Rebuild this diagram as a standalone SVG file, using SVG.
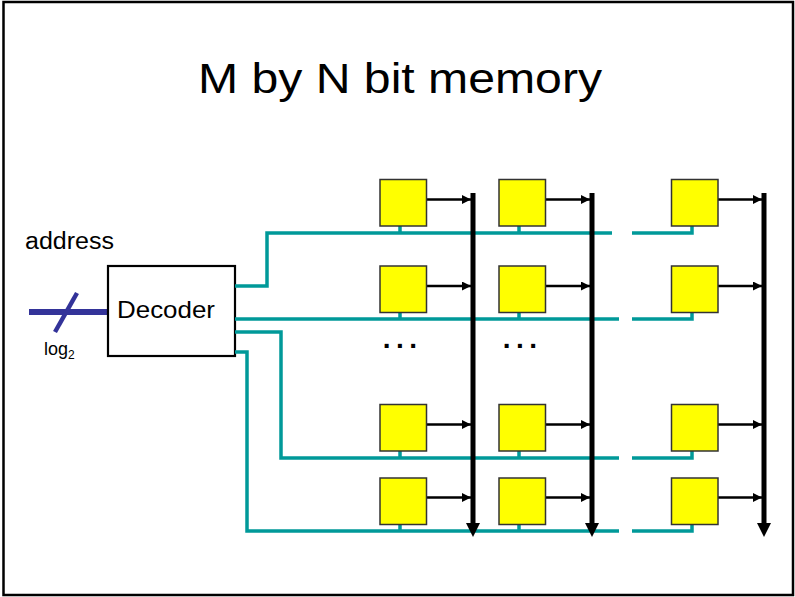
<svg xmlns="http://www.w3.org/2000/svg" width="795" height="597" viewBox="0 0 795 597">
<style>
  .t { font-family: "Liberation Sans", Arial, sans-serif; fill: #000; }
  .cell { fill: #FFFF00; stroke: #333; stroke-width: 1.5; }
  .wl { fill: none; stroke: #009999; stroke-width: 3.5; }
  .bl { stroke: #000; stroke-width: 5; }
  .ar { stroke: #000; stroke-width: 2.7; }
  .bus { stroke: #333399; }
  .dots { font-size: 28px; font-weight: bold; letter-spacing: 5.5px; }
</style>
<defs>
  <marker id="ah" viewBox="0 0 10 10" refX="10" refY="5" markerWidth="9" markerHeight="9" markerUnits="userSpaceOnUse" orient="auto">
    <path d="M0,0 L10,5 L0,10 Z" fill="#000"/>
  </marker>
  <marker id="bh" viewBox="0 0 14 14" refX="7" refY="0" markerWidth="14" markerHeight="14" markerUnits="userSpaceOnUse" orient="0">
    <path d="M0,0 L14,0 L7,14 Z" fill="#000"/>
  </marker>
</defs>
<rect x="0" y="0" width="795" height="597" fill="#fff"/>
<rect x="3.5" y="2" width="789.5" height="593" fill="none" stroke="#000" stroke-width="2.5"/>
<text class="t" x="198" y="93" font-size="43" textLength="404" lengthAdjust="spacingAndGlyphs">M by N bit memory</text>

<g id="address-label"><text class="t" x="25" y="249" font-size="23" textLength="89" lengthAdjust="spacingAndGlyphs">address</text></g>

<g id="address-bus">
  <line class="bus" x1="29" y1="312" x2="109" y2="312" stroke-width="6"/>
  <line class="bus" x1="77" y1="293" x2="55" y2="332" stroke-width="4.5"/>
  <text class="t" x="44" y="355" font-size="18">log<tspan font-size="12" dy="4">2</tspan></text>
</g>

<g id="decoder">
  <rect x="108" y="266" width="127" height="90" fill="#fff" stroke="#000" stroke-width="2.2"/>
  <text class="t" x="117" y="318" font-size="24" textLength="98" lengthAdjust="spacingAndGlyphs">Decoder</text>
</g>

<g id="connectors">
  <!-- word lines -->
  <path class="wl" d="M235,286 H267 V233 H612"/>
  <path class="wl" d="M632,233 H692 V226"/>
  <path class="wl" d="M235,319 H619"/>
  <path class="wl" d="M632,319 H692 V312"/>
  <path class="wl" d="M235,332 H281 V458 H619"/>
  <path class="wl" d="M632,458 H692 V451"/>
  <path class="wl" d="M235,352 H247 V531 H619"/>
  <path class="wl" d="M632,531 H692 V524"/>
  <!-- stubs -->
  <path class="wl" d="M400,226 V233 M519,226 V233 M400,312 V319 M519,312 V319 M400,451 V458 M519,451 V458 M400,524 V531 M519,524 V531"/>
  <!-- bit lines -->
  <line class="bl" x1="473" y1="193" x2="473" y2="523" marker-end="url(#bh)"/>
  <line class="bl" x1="592" y1="193" x2="592" y2="523" marker-end="url(#bh)"/>
  <line class="bl" x1="764" y1="193" x2="764" y2="523" marker-end="url(#bh)"/>
  <!-- cell outputs -->
  <line class="ar" x1="427" y1="199.5" x2="471" y2="199.5" marker-end="url(#ah)"/>
  <line class="ar" x1="546" y1="199.5" x2="590" y2="199.5" marker-end="url(#ah)"/>
  <line class="ar" x1="718" y1="199.5" x2="762" y2="199.5" marker-end="url(#ah)"/>
  <line class="ar" x1="427" y1="286" x2="471" y2="286" marker-end="url(#ah)"/>
  <line class="ar" x1="546" y1="286" x2="590" y2="286" marker-end="url(#ah)"/>
  <line class="ar" x1="718" y1="286" x2="762" y2="286" marker-end="url(#ah)"/>
  <line class="ar" x1="427" y1="424.5" x2="471" y2="424.5" marker-end="url(#ah)"/>
  <line class="ar" x1="546" y1="424.5" x2="590" y2="424.5" marker-end="url(#ah)"/>
  <line class="ar" x1="718" y1="424.5" x2="762" y2="424.5" marker-end="url(#ah)"/>
  <line class="ar" x1="427" y1="497.5" x2="471" y2="497.5" marker-end="url(#ah)"/>
  <line class="ar" x1="546" y1="497.5" x2="590" y2="497.5" marker-end="url(#ah)"/>
  <line class="ar" x1="718" y1="497.5" x2="762" y2="497.5" marker-end="url(#ah)"/>
</g>

<g id="cell-r1c1"><rect class="cell" x="380" y="179.5" width="46.5" height="46.5"/></g>
<g id="cell-r1c2"><rect class="cell" x="499" y="179.5" width="46.5" height="46.5"/></g>
<g id="cell-r1c3"><rect class="cell" x="671.5" y="179.5" width="46.5" height="46.5"/></g>
<g id="cell-r2c1"><rect class="cell" x="380" y="266" width="46.5" height="46.5"/></g>
<g id="cell-r2c2"><rect class="cell" x="499" y="266" width="46.5" height="46.5"/></g>
<g id="cell-r2c3"><rect class="cell" x="671.5" y="266" width="46.5" height="46.5"/></g>
<g id="cell-r3c1"><rect class="cell" x="380" y="404.5" width="46.5" height="46.5"/></g>
<g id="cell-r3c2"><rect class="cell" x="499" y="404.5" width="46.5" height="46.5"/></g>
<g id="cell-r3c3"><rect class="cell" x="671.5" y="404.5" width="46.5" height="46.5"/></g>
<g id="cell-r4c1"><rect class="cell" x="380" y="478" width="46.5" height="46.5"/></g>
<g id="cell-r4c2"><rect class="cell" x="499" y="478" width="46.5" height="46.5"/></g>
<g id="cell-r4c3"><rect class="cell" x="671.5" y="478" width="46.5" height="46.5"/></g>

<g id="ellipsis-1"><text class="t dots" x="382.8" y="347.5">...</text></g>
<g id="ellipsis-2"><text class="t dots" x="502.8" y="347.5">...</text></g>
</svg>
